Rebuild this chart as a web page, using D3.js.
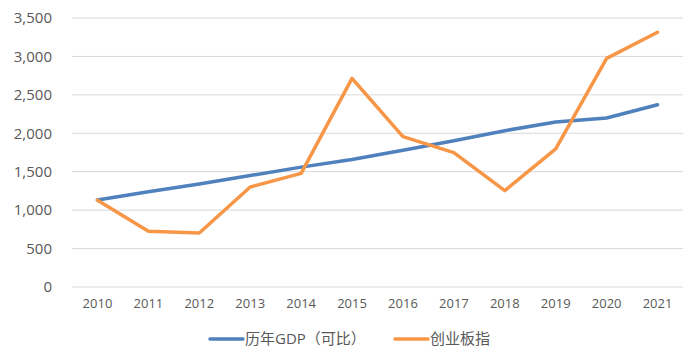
<!DOCTYPE html>
<html><head><meta charset="utf-8">
<script src="https://cdn.jsdelivr.net/npm/d3@7"></script>
<style>html,body{margin:0;padding:0;background:#fff;}svg{display:block;}</style>
</head><body>
<svg id="chart" width="700" height="364"></svg>
<script>
const years = ["2010","2011","2012","2013","2014","2015","2016","2017","2018","2019","2020","2021"];
const gdp = [1132, 1240, 1340, 1450, 1560, 1660, 1780, 1904, 2034, 2147, 2199, 2372];
const chinext = [1130, 724, 702, 1301, 1479, 2715, 1956, 1748, 1253, 1796, 2975, 3314];
const yTicks = [0, 500, 1000, 1500, 2000, 2500, 3000, 3500];
const seriesNames = ["历年GDP（可比）", "创业板指"];
const colors = ["#4F81BD", "#F79646"];

const svg = d3.select("#chart");
const mLeft = 72, mRight = 683, mTop = 18, mBottom = 287;
const font = "'Open Sans','Noto Sans CJK SC',sans-serif";

const x = d3.scaleBand().domain(years).range([mLeft, mRight]);
const y = d3.scaleLinear().domain([0, 3500]).range([mBottom, mTop]);

// gridlines
svg.append("g").selectAll("line").data(yTicks).join("line")
  .attr("x1", mLeft).attr("x2", mRight)
  .attr("y1", d => y(d)).attr("y2", d => y(d))
  .attr("stroke", "#d9d9d9").attr("stroke-width", 1);

// y axis labels
const yAxis = d3.axisLeft(y).tickValues(yTicks).tickSize(0).tickPadding(20).tickFormat(d3.format(","));
svg.append("g").attr("transform", `translate(${mLeft},0)`).call(yAxis)
  .call(g => g.select(".domain").remove())
  .call(g => g.selectAll("text").attr("fill", "#595959").attr("font-size", 15).attr("font-family", font));

// x axis labels
const xAxis = d3.axisBottom(x).tickSize(0).tickPadding(12);
svg.append("g").attr("transform", `translate(0,${mBottom})`).call(xAxis)
  .call(g => g.select(".domain").remove())
  .call(g => g.selectAll("text").attr("fill", "#595959").attr("font-size", 13).attr("font-family", font));

const line = d3.line().x((d, i) => x(years[i]) + x.bandwidth() / 2).y(d => y(d));
[gdp, chinext].forEach((s, k) => {
  svg.append("path").datum(s).attr("d", line)
    .attr("fill", "none").attr("stroke", colors[k]).attr("stroke-width", 3.5)
    .attr("stroke-linejoin", "round").attr("stroke-linecap", "round");
});

// legend
const legendY = 339;
const legendX = [210, 395];
seriesNames.forEach((name, k) => {
  const g = svg.append("g").attr("transform", `translate(${legendX[k]},${legendY})`);
  g.append("line").attr("x1", 0).attr("x2", 33).attr("y1", 0).attr("y2", 0)
    .attr("stroke", colors[k]).attr("stroke-width", 3.5).attr("stroke-linecap", "round");
  g.append("text").attr("x", 35).attr("y", 0).attr("dy", "0.35em")
    .attr("fill", "#595959").attr("font-size", 15).attr("font-family", font).text(name);
});
</script>
</body></html>
